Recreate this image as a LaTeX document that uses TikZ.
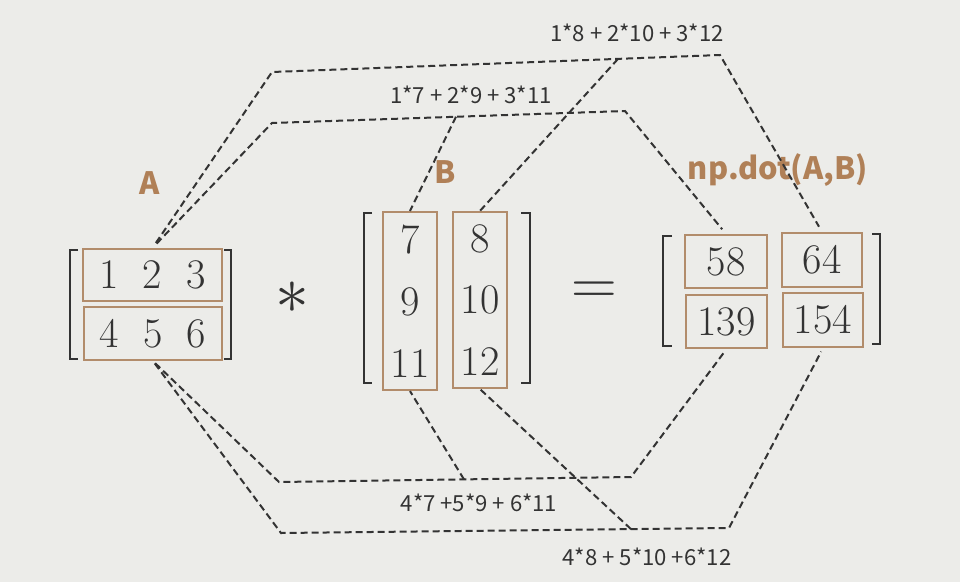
\documentclass[tikz,border=0pt]{standalone}
\usepackage{fontspec}
\newfontfamily\labelfont{Noto Sans CJK KR}
\newlength{\du}
\setlength{\du}{0.02cm}
\tikzset{
  entrybox/.style={draw=boxcolor, line width=2.2\du, inner sep=0pt, text=inkcolor,
    font=\fontsize{24}{28}\selectfont},
  columnbox/.style={entrybox, align=center, font=\fontsize{24}{35.2}\selectfont},
  bracketline/.style={draw=inkcolor, line width=2.4\du},
  guideline/.style={draw=inkcolor, line width=2\du, dash pattern=on 7\du off 4\du},
  sumlabel/.style={inner sep=0pt, text=inkcolor, font=\labelfont\fontsize{12.6}{15}\selectfont},
  namelabel/.style={inner sep=0pt, text=namecolor, font=\labelfont\bfseries\fontsize{17.5}{20}\selectfont}
}

\begin{document}
\begin{tikzpicture}
\pgftransformxscale{1.000000}
\pgftransformyscale{-1.000000}
\definecolor{paper}{rgb}{0.925, 0.925, 0.913}
\definecolor{inkcolor}{rgb}{0.200, 0.200, 0.200}
\definecolor{boxcolor}{rgb}{0.700, 0.550, 0.420}
\definecolor{namecolor}{rgb}{0.690, 0.500, 0.340}
\fill[paper] (0\du,0\du) rectangle (960\du,582\du);
\useasboundingbox (0\du,0\du) rectangle (960\du,582\du);
% matrix A
\draw[bracketline] (78\du,250\du)--(70\du,250\du)--(70\du,359\du)--(78\du,359\du);
\draw[bracketline] (224\du,250\du)--(231\du,250\du)--(231\du,359\du)--(224\du,359\du);
\node[entrybox, minimum width=139\du, minimum height=52\du] (rowA1) at (152.5\du,275\du) {1\hspace{24\du}2\hspace{24\du}3};
\node[entrybox, minimum width=138\du, minimum height=53\du] (rowA2) at (153\du,333.5\du) {4\hspace{24\du}5\hspace{24\du}6};
\node[namelabel] (nameA) at (150\du,183\du) {A};
% times
\node[inner sep=0pt, text=inkcolor, font=\fontsize{24}{28}\selectfont] (times) at (292\du,298\du) {\scalebox{1.55}{$\ast$}};
% matrix B
\draw[bracketline] (372\du,213\du)--(364\du,213\du)--(364\du,383\du)--(372\du,383\du);
\draw[bracketline] (521\du,213\du)--(530\du,213\du)--(530\du,383\du)--(521\du,383\du);
\node[columnbox, minimum width=54\du, minimum height=178\du] (colB1) at (410\du,301\du) {7\\9\\11};
\node[columnbox, minimum width=54\du, minimum height=176\du] (colB2) at (480\du,300\du) {8\\10\\12};
\node[namelabel] (nameB) at (445\du,172\du) {B};
% equals
\node[inner sep=0pt, text=inkcolor, font=\fontsize{24}{28}\selectfont] (equals) at (594\du,293\du) {\scalebox{1.45}{$=$}};
% result
\draw[bracketline] (672\du,236\du)--(663\du,236\du)--(663\du,346\du)--(672\du,346\du);
\draw[bracketline] (872\du,234\du)--(880\du,234\du)--(880\du,344\du)--(872\du,344\du);
\node[entrybox, minimum width=82\du, minimum height=53\du] (r11) at (726\du,261.5\du) {58};
\node[entrybox, minimum width=80\du, minimum height=54\du] (r12) at (822\du,260\du) {64};
\node[entrybox, minimum width=81\du, minimum height=53\du] (r21) at (726.5\du,321.5\du) {139};
\node[entrybox, minimum width=80\du, minimum height=54\du] (r22) at (823\du,320\du) {154};
\node[namelabel] (nameAB) at (778\du,170\du) {np.dot(A,B)};
% corners of the guide lines
\coordinate (topOuterL) at (272\du,72\du);
\coordinate (topOuterK) at (618\du,58.9\du);
\coordinate (topOuterR) at (720\du,55\du);
\coordinate (topInnerL) at (272\du,123\du);
\coordinate (topInnerK) at (456\du,116.7\du);
\coordinate (topInnerR) at (625\du,111\du);
\coordinate (botInnerL) at (279\du,482\du);
\coordinate (botInnerK) at (464\du,479.4\du);
\coordinate (botInnerR) at (631\du,477\du);
\coordinate (botOuterL) at (281\du,533\du);
\coordinate (botOuterK) at (631\du,529.1\du);
\coordinate (botOuterR) at (729\du,528\du);
\draw[guideline, shorten <=6\du, shorten >=6\du] (rowA1.north)--(topOuterL)--(topOuterR)--(r12.north);
\draw[guideline] (topOuterK)--(colB2.north);
\draw[guideline, shorten <=6\du, shorten >=6\du] (rowA1.north)--(topInnerL)--(topInnerR)--(r11.north);
\draw[guideline] (topInnerK)--(colB1.north);
\draw[guideline, shorten <=3\du, shorten >=4\du] (rowA2.south)--(botInnerL)--(botInnerR)--(r21.south);
\draw[guideline] (botInnerK)--(colB1.south);
\draw[guideline, shorten <=3\du, shorten >=4\du] (rowA2.south)--(botOuterL)--(botOuterR)--(r22.south);
\draw[guideline] (botOuterK)--(colB2.south);
% sums
\node[sumlabel] (sum12) at (637\du,33\du) {1*8 + 2*10 + 3*12};
\node[sumlabel] (sum11) at (471\du,95\du) {1*7 + 2*9 + 3*11};
\node[sumlabel] (sum21) at (479\du,503\du) {4*7 +5*9 + 6*11};
\node[sumlabel] (sum22) at (647\du,557\du) {4*8 + 5*10 +6*12};
\end{tikzpicture}
\end{document}
